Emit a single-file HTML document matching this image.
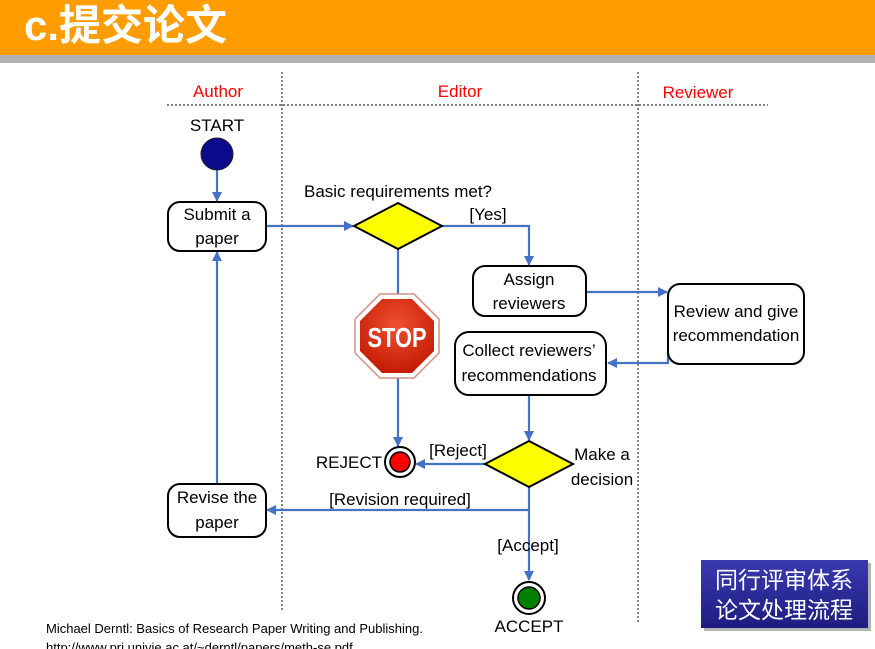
<!DOCTYPE html>
<html><head><meta charset="utf-8"><style>
html,body{margin:0;padding:0;width:875px;height:649px;overflow:hidden;background:#fff}
svg{display:block}
text{font-family:"Liberation Sans","Noto Sans CJK SC",sans-serif}
</style></head><body>
<svg width="875" height="649" viewBox="0 0 875 649" xmlns="http://www.w3.org/2000/svg">
<defs>
<marker id="a" markerWidth="10" markerHeight="10" refX="9" refY="5" orient="auto" markerUnits="userSpaceOnUse"><path d="M0,0 L10,5 L0,10 z" fill="#4472c4"/></marker>
<linearGradient id="pg" x1="0" y1="0" x2="0" y2="1"><stop offset="0" stop-color="#3a3ab0"/><stop offset="1" stop-color="#1d1d80"/></linearGradient>
<radialGradient id="sg" cx="0.5" cy="0.35" r="0.7"><stop offset="0" stop-color="#f05030"/><stop offset="1" stop-color="#c01800"/></radialGradient>
</defs>
<rect x="0" y="0" width="875" height="55" fill="#ff9c00"/>
<rect x="0" y="55" width="875" height="8" fill="#b2b2b2"/>
<text x="24" y="40" font-size="42" font-weight="bold" fill="#fff" font-family="Liberation Sans,Noto Sans CJK SC,sans-serif">c.提交论文</text>

<g stroke="#333" stroke-width="1.2" stroke-dasharray="2,2" fill="none">
<line x1="282" y1="72" x2="282" y2="612"/>
<line x1="638" y1="72" x2="638" y2="622"/>
<line x1="167" y1="105" x2="768" y2="105"/>
</g>
<g font-size="17" fill="#ff0000" text-anchor="middle">
<text x="218" y="97">Author</text><text x="460" y="97">Editor</text><text x="698" y="98">Reviewer</text>
</g>

<g stroke="#4472c4" stroke-width="2.2" fill="none">
<line x1="217" y1="170" x2="217" y2="201" marker-end="url(#a)"/>
<line x1="266" y1="226" x2="353" y2="226" marker-end="url(#a)"/>
<polyline points="442,226 529,226 529,265" marker-end="url(#a)"/>
<line x1="586" y1="292" x2="667" y2="292" marker-end="url(#a)"/>
<polyline points="668,348 668,363 608,363" marker-end="url(#a)"/>
<line x1="529" y1="395" x2="529" y2="440" marker-end="url(#a)"/>
<line x1="398" y1="249" x2="398" y2="298"/>
<line x1="398" y1="374" x2="398" y2="446" marker-end="url(#a)"/>
<line x1="485" y1="464" x2="416" y2="464" marker-end="url(#a)"/>
<line x1="529" y1="487" x2="529" y2="580" marker-end="url(#a)"/>
<line x1="529" y1="510" x2="267" y2="510" marker-end="url(#a)"/>
<line x1="217" y1="484" x2="217" y2="252" marker-end="url(#a)"/>
</g>

<text x="217" y="131" font-size="17" text-anchor="middle">START</text>
<circle cx="217" cy="154" r="16" fill="#0a0a8a" stroke="#222" stroke-width="1"/>

<g fill="#fff" stroke="#000" stroke-width="2">
<rect x="168" y="202" width="98" height="49" rx="12"/>
<rect x="473" y="266" width="113" height="50" rx="12"/>
<rect x="668" y="284" width="136" height="80" rx="12"/>
<rect x="455" y="332" width="151" height="63" rx="14"/>
<rect x="168" y="484" width="98" height="53" rx="12"/>
</g>
<g fill="#ffff00" stroke="#000" stroke-width="2">
<polygon points="354,226 398,203 442,226 398,249"/>
<polygon points="485,464 529,441 573,464 529,487"/>
</g>

<g font-size="17" text-anchor="middle" fill="#000">
<text x="217" y="220">Submit a</text><text x="217" y="244">paper</text>
<text x="529" y="285">Assign</text><text x="529" y="309">reviewers</text>
<text x="736" y="317">Review and give</text><text x="736" y="341">recommendation</text>
<text x="529" y="356">Collect reviewers’</text><text x="529" y="381">recommendations</text>
<text x="217" y="503">Revise the</text><text x="217" y="528">paper</text>
<text x="398" y="197">Basic requirements met?</text>
<text x="488" y="220">[Yes]</text>
<text x="602" y="460">Make a</text><text x="602" y="485">decision</text>
<text x="458" y="456">[Reject]</text>
<text x="400" y="505">[Revision required]</text>
<text x="528" y="551">[Accept]</text>
<text x="529" y="632">ACCEPT</text>
<text x="382" y="468" text-anchor="end">REJECT</text>
</g>

<polygon points="380,294 414,294 439,319 439,353 414,378 380,378 355,353 355,319" fill="#fff" stroke="#d09080" stroke-width="1.5"/>
<polygon points="382,299 412,299 434,321 434,351 412,373 382,373 360,351 360,321" fill="url(#sg)"/>
<text x="397" y="347" font-size="28" font-weight="bold" fill="#fff" text-anchor="middle" transform="translate(397,0) scale(0.78,1) translate(-397,0)">STOP</text>

<circle cx="400" cy="462" r="15" fill="#fff" stroke="#000" stroke-width="2"/>
<circle cx="400" cy="462" r="10" fill="#ff0000" stroke="#000" stroke-width="1.5"/>
<circle cx="529" cy="598" r="16" fill="#fff" stroke="#000" stroke-width="2"/>
<circle cx="529" cy="598" r="11" fill="#008000" stroke="#000" stroke-width="1.5"/>

<rect x="704" y="563" width="167" height="68" fill="#444" opacity="0.4"/>
<rect x="701" y="560" width="167" height="68" fill="url(#pg)"/>
<text x="784" y="588" font-size="23" fill="#fff" text-anchor="middle">同行评审体系</text>
<text x="784" y="618" font-size="23" fill="#fff" text-anchor="middle">论文处理流程</text>

<text x="46" y="633" font-size="13" fill="#000">Michael Derntl: Basics of Research Paper Writing and Publishing.</text>
<text x="46" y="652" font-size="13" fill="#000">http://www.pri.univie.ac.at/~derntl/papers/meth-se.pdf</text>
</svg>
</body></html>
